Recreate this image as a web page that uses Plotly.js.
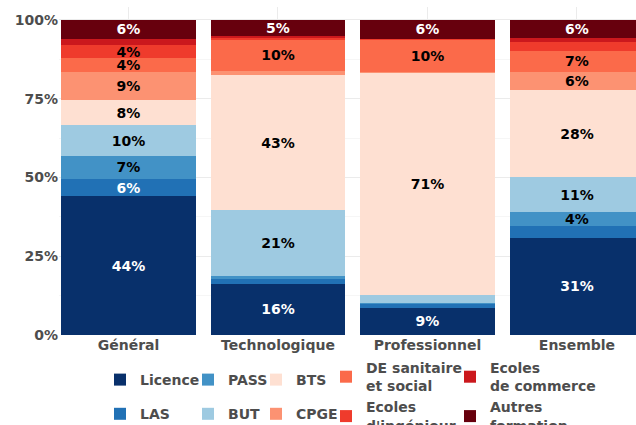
<!DOCTYPE html>
<html>
<head>
<meta charset="utf-8">
<script src="https://cdn.plot.ly/plotly-3.0.1.min.js"></script>
<style>html,body{margin:0;padding:0;background:#fff;}#chart{width:636px;height:425px;}</style>
</head>
<body>
<div id="chart"></div>
<script>
const categories = ['Général', 'Technologique', 'Professionnel', 'Ensemble'];
const seriesNames = ['Licence', 'LAS', 'PASS', 'BUT', 'BTS', 'CPGE',
  'DE sanitaire<br>et social', "Ecoles<br>d'ingénieur", 'Ecoles<br>de commerce', 'Autres<br>formation'];
const licence = [44.0, 16.2, 8.7, 30.8];
const las = [5.6, 1.5, 1.0, 3.8];
const pass = [7.2, 1.0, 0.5, 4.4];
const but = [9.8, 21.0, 2.5, 11.0];
const bts = [7.9, 42.7, 70.6, 27.7];
const cpge = [9.1, 1.5, 0.2, 5.8];
const deSanitaire = [4.3, 9.8, 10.2, 6.7];
const ingenieur = [4.1, 0.6, 0.2, 2.9];
const commerce = [2.0, 0.6, 0.2, 1.1];
const autres = [6.0, 5.1, 5.9, 5.8];
const yTickVals = [0, 25, 50, 75, 100];
const yTickText = ['0%', '25%', '50%', '75%', '100%'];

const values = [licence, las, pass, but, bts, cpge, deSanitaire, ingenieur, commerce, autres];
const colors = ['#08306b', '#2171b5', '#4292c6', '#9ecae1', '#fee0d2', '#fc9272', '#fb6a4a', '#ef3b2c', '#cb181d', '#67000d'];
const textColors = ['#ffffff', '#ffffff', '#000000', '#000000', '#000000', '#000000', '#000000', '#000000', '#000000', '#ffffff'];
const legendIds = ['legend', 'legend', 'legend2', 'legend2', 'legend3', 'legend3', 'legend4', 'legend4', 'legend5', 'legend5'];

const font = 'DejaVu Sans, Verdana, sans-serif';
const traces = values.map((v, i) => ({
  type: 'bar',
  name: seriesNames[i],
  x: categories.map((c, k) => k),
  y: v,
  width: 0.9,
  marker: {color: colors[i], line: {width: 0}},
  text: v.map(d => d >= 4 ? Math.round(d) + '%' : ''),
  textposition: 'inside',
  insidetextanchor: 'middle',
  textangle: 0,
  constraintext: 'none',
  insidetextfont: {family: font, size: 14, weight: 'bold', color: textColors[i]},
  legend: legendIds[i],
  legendgroup: 'g' + i,
  hoverinfo: 'skip'
}));

function legendAt(xpx, ypx, gap) {
  return {
    xref: 'container', yref: 'container',
    x: xpx / 636, y: 1 - ypx / 425,
    xanchor: 'left', yanchor: 'top',
    orientation: 'v',
    traceorder: 'grouped',
    bgcolor: 'rgba(0,0,0,0)',
    borderwidth: 0,
    itemwidth: 30,
    tracegroupgap: gap,
    font: {family: font, size: 14, weight: 'bold', color: '#4d4d4d'},
    itemclick: false, itemdoubleclick: false
  };
}

const layout = {
  width: 636, height: 425,
  margin: {l: 59, r: 0, t: 7, b: 90, autoexpand: false},
  paper_bgcolor: '#ffffff',
  plot_bgcolor: '#ffffff',
  barmode: 'stack',
  showlegend: true,
  xaxis: {
    range: [-0.465, 3.395],
    tickmode: 'array',
    tickvals: categories.map((c, k) => k),
    ticktext: categories,
    showgrid: true, gridcolor: '#ebebeb', gridwidth: 1,
    zeroline: false, showline: false, ticks: '',
    tickfont: {family: font, size: 14, weight: 'bold', color: '#4d4d4d'}
  },
  yaxis: {
    range: [0, 104.1],
    tickmode: 'array',
    tickvals: yTickVals,
    ticktext: yTickText,
    showgrid: true, gridcolor: '#ebebeb', gridwidth: 1,
    minor: {dtick: 12.5, tick0: 0, showgrid: true, gridcolor: '#f2f2f2', gridwidth: 0.7},
    zeroline: false, showline: false, ticks: '',
    tickfont: {family: font, size: 14, weight: 'bold', color: '#4d4d4d'}
  },
  legend: legendAt(100, 364, 13),
  legend2: legendAt(188, 364, 13),
  legend3: legendAt(256, 364, 13),
  legend4: legendAt(326, 352, 0),
  legend5: legendAt(450, 352, 0)
};

Plotly.newPlot('chart', traces, layout, {displayModeBar: false, staticPlot: true});
</script>
</body>
</html>
